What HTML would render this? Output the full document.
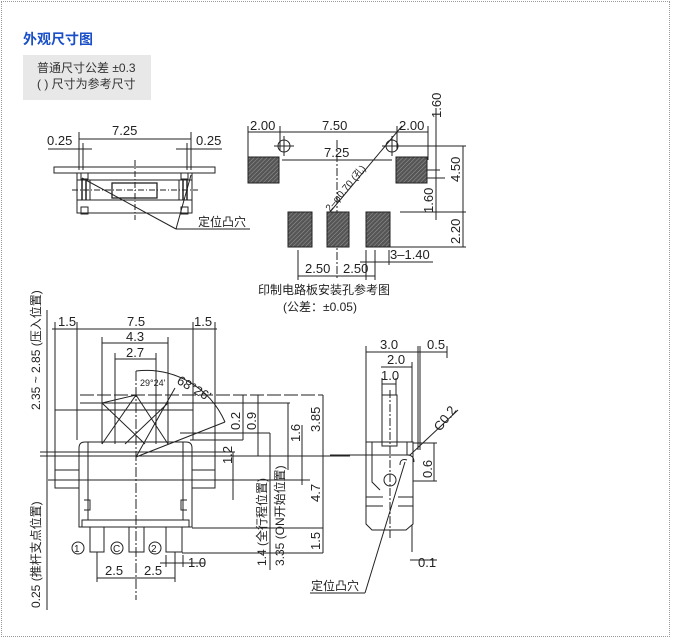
<!DOCTYPE html>
<html><head><meta charset="utf-8"><style>
html,body{margin:0;padding:0;background:#fff;}
body{width:674px;height:639px;position:relative;overflow:hidden;font-family:"Liberation Sans","Noto Sans CJK SC",sans-serif;}
.frame{position:absolute;left:1px;top:1px;width:667px;height:634px;border:1px dotted #999;}
.title{position:absolute;left:23px;top:29px;font-size:14px;font-weight:bold;color:#1a4fc8;}
.note{position:absolute;left:23px;top:55px;width:128px;height:45px;background:#e8e8e8;font-size:12px;color:#333;line-height:16px;padding:5px 0 0 14px;box-sizing:border-box;}
svg{position:absolute;left:0;top:0;}
svg text{font-family:"Liberation Sans","Noto Sans CJK SC",sans-serif;fill:#222;}
</style></head><body>
<div class="frame"></div>
<div class="title">外观尺寸图</div>
<div class="note">普通尺寸公差 ±0.3<br>( ) 尺寸为参考尺寸</div>
<svg width="674" height="639" viewBox="0 0 674 639">
<defs>
<pattern id="h" width="3" height="3" patternUnits="userSpaceOnUse" patternTransform="rotate(45)"><rect width="3" height="3" fill="#555"/><line x1="0" y1="0" x2="0" y2="3" stroke="#999" stroke-width="1"/></pattern>
</defs>
<g stroke="#222" stroke-width="1" fill="none">
<line x1="79" y1="132" x2="79" y2="170"/><line x1="191" y1="132" x2="191" y2="170"/>
<line x1="79" y1="139" x2="191" y2="139"/>
<line x1="48" y1="149" x2="92" y2="149"/><line x1="176" y1="149" x2="222" y2="149"/>
<line x1="83" y1="143" x2="83" y2="170"/><line x1="187" y1="143" x2="187" y2="170"/>
<rect x="54" y="167" width="161" height="6"/>
<rect x="77" y="173" width="115" height="40"/>
<rect x="81" y="173" width="7" height="6"/><rect x="181" y="173" width="7" height="6"/>
<rect x="81" y="207" width="7" height="7"/><rect x="181" y="207" width="7" height="7"/>
<line x1="77" y1="180" x2="192" y2="180"/><line x1="77" y1="200" x2="192" y2="200"/>
<rect x="112" y="183" width="45" height="15" stroke-width="1.3"/>
<line x1="82" y1="180" x2="82" y2="200" stroke-width="1.5"/><line x1="86" y1="180" x2="86" y2="200" stroke-width="1.5"/><line x1="90" y1="180" x2="90" y2="200"/>
<line x1="179" y1="180" x2="179" y2="200"/><line x1="183" y1="180" x2="183" y2="200" stroke-width="1.5"/><line x1="187" y1="180" x2="187" y2="200" stroke-width="1.5"/>
<line x1="72" y1="190" x2="198" y2="190" stroke-dasharray="6,2,1,2"/>
<line x1="135" y1="160" x2="135" y2="220" stroke-dasharray="6,2,1,2"/>
<line x1="82" y1="178" x2="176" y2="229"/><line x1="191" y1="175" x2="176" y2="229"/><line x1="176" y1="229" x2="250" y2="229"/>
<line x1="248" y1="132" x2="428" y2="132"/>
<line x1="248" y1="126" x2="248" y2="160"/><line x1="280" y1="126" x2="280" y2="150"/><line x1="397" y1="126" x2="397" y2="150"/><line x1="428" y1="126" x2="428" y2="160"/>
<circle cx="284" cy="146" r="6"/><circle cx="392" cy="146" r="6"/>
<line x1="274" y1="146" x2="294" y2="146"/><line x1="284" y1="136" x2="284" y2="156"/>
<line x1="382" y1="146" x2="466" y2="146"/><line x1="392" y1="136" x2="392" y2="156"/>
<line x1="282" y1="160" x2="392" y2="160"/>
<line x1="337" y1="140" x2="337" y2="280" stroke-dasharray="8,2,2,2"/>
<line x1="330" y1="212" x2="402" y2="126"/>
<line x1="420" y1="170" x2="440" y2="170"/><line x1="400" y1="178" x2="445" y2="178"/>
<line x1="436" y1="108" x2="436" y2="220"/><line x1="400" y1="212" x2="466" y2="212"/><line x1="390" y1="247" x2="466" y2="247"/>
<line x1="463" y1="146" x2="463" y2="247"/>
<line x1="298" y1="250" x2="298" y2="280"/><line x1="375" y1="250" x2="375" y2="280"/><line x1="366" y1="250" x2="366" y2="280"/>
<line x1="298" y1="276" x2="375" y2="276"/>
<line x1="360" y1="262" x2="433" y2="262"/><line x1="389" y1="250" x2="389" y2="265"/>
</g>
<rect x="248" y="157" width="31" height="26" fill="url(#h)" stroke="#222"/>
<rect x="396" y="157" width="31" height="26" fill="url(#h)" stroke="#222"/>
<rect x="288" y="212" width="24" height="35" fill="url(#h)" stroke="#222"/>
<rect x="327" y="212" width="22" height="35" fill="url(#h)" stroke="#222"/>
<rect x="366" y="212" width="24" height="35" fill="url(#h)" stroke="#222"/>
<g font-size="13">
<text x="112" y="135">7.25</text><text x="47" y="145">0.25</text><text x="196" y="145">0.25</text>
<text x="198" y="226" font-size="12">定位凸穴</text>
<text x="250" y="130">2.00</text><text x="322" y="130">7.50</text><text x="399" y="130">2.00</text>
<text x="324" y="157">7.25</text>
<text transform="translate(441,118) rotate(-90)">1.60</text>
<text transform="translate(460,182) rotate(-90)">4.50</text>
<text transform="translate(433,213) rotate(-90)">1.60</text>
<text transform="translate(460,244) rotate(-90)">2.20</text>
<text transform="translate(330,212) rotate(-50)" font-size="10">2–φ0.70 (孔)</text>
<text x="305" y="273">2.50</text><text x="343" y="273">2.50</text><text x="390" y="259">3–1.40</text>
<text x="258" y="294" font-size="12">印制电路板安装孔参考图</text>
<text x="283" y="311" font-size="12">(公差：±0.05)</text>
</g>
<g stroke="#222" stroke-width="1" fill="none">
<line x1="47" y1="310" x2="47" y2="610"/>
<line x1="52" y1="329" x2="217" y2="329"/>
<line x1="55" y1="322" x2="55" y2="470"/><line x1="77" y1="322" x2="77" y2="440"/><line x1="193" y1="322" x2="193" y2="440"/><line x1="215" y1="322" x2="215" y2="470"/>
<line x1="102" y1="343" x2="168" y2="343"/><line x1="102" y1="337" x2="102" y2="444"/><line x1="168" y1="337" x2="168" y2="444"/>
<line x1="115" y1="359" x2="156" y2="359"/><line x1="115" y1="353" x2="115" y2="444"/><line x1="156" y1="353" x2="156" y2="444"/>
<path d="M136 371 A86 86 0 0 1 225 422"/>
<line x1="136" y1="371" x2="136" y2="600" stroke-dasharray="10,2,2,2"/>
<line x1="136" y1="457" x2="225" y2="422"/>
<line x1="136" y1="457" x2="175" y2="388"/>
<line x1="80" y1="395" x2="323" y2="395" stroke-dasharray="14,3"/>
<line x1="80" y1="403" x2="290" y2="403"/>
<line x1="55" y1="410" x2="193" y2="410"/>
<path d="M102 403 L145 444 M168 403 L125 444 M102 403 L136 395 M136 395 L168 444 M136 395 L102 444"/>
<line x1="40" y1="456" x2="350" y2="456"/><line x1="40" y1="452" x2="235" y2="452"/>
<line x1="180" y1="433" x2="270" y2="433"/><line x1="190" y1="440" x2="243" y2="440"/>
<path d="M79 527 L79 448 Q79 442 85 442 L186 442 Q192 442 192 448 L192 527 Z"/>
<path d="M88 442 L88 520 M183 442 L183 520 M84 500 L90 500 L90 510 L84 510 M187 500 L181 500 L181 510 L187 510"/>
<path d="M82 527 L82 520 L189 520 L189 527 Z"/>
<rect x="90" y="527" width="14" height="25"/><rect x="129" y="527" width="15" height="25"/><rect x="166" y="527" width="16" height="25"/>
<rect x="55" y="470" width="24" height="18"/><rect x="192" y="470" width="23" height="18"/>
<line x1="48" y1="480" x2="310" y2="480"/>
<line x1="192" y1="528" x2="323" y2="528"/><line x1="182" y1="553" x2="323" y2="553"/>
<line x1="243" y1="395" x2="243" y2="440"/><line x1="258" y1="395" x2="258" y2="456"/><line x1="270" y1="433" x2="270" y2="570"/>
<line x1="288" y1="403" x2="288" y2="470"/><line x1="302" y1="425" x2="302" y2="485"/><line x1="323" y1="395" x2="323" y2="553"/>
<line x1="233" y1="452" x2="233" y2="500"/>
<line x1="97" y1="552" x2="97" y2="582"/><line x1="175" y1="552" x2="175" y2="582"/>
<line x1="97" y1="578" x2="175" y2="578"/>
<line x1="160" y1="563" x2="205" y2="563"/><line x1="166" y1="555" x2="166" y2="567"/><line x1="183" y1="555" x2="183" y2="567"/>
<circle cx="78" cy="548" r="6"/><circle cx="117" cy="548" r="6"/><circle cx="155" cy="548" r="6"/>
</g>
<g font-size="13">
<text x="58" y="326">1.5</text><text x="127" y="326">7.5</text><text x="194" y="326">1.5</text>
<text x="126" y="341">4.3</text><text x="126" y="357">2.7</text>
<text x="176" y="383" transform="rotate(30,176,383)">68°26'</text>
<text x="140" y="386" font-size="9">29°24'</text>
<text transform="translate(40,410) rotate(-90)" font-size="12">2.35 ~ 2.85 (压入位置)</text>
<text transform="translate(40,608) rotate(-90)" font-size="12">0.25 (推杆支点位置)</text>
<text x="74" y="552" font-size="10">1</text><text x="113" y="552" font-size="10">C</text><text x="151" y="552" font-size="10">2</text>
<text x="105" y="575">2.5</text><text x="144" y="575">2.5</text><text x="188" y="567">1.0</text>
<text transform="translate(240,430) rotate(-90)">0.2</text><text transform="translate(256,430) rotate(-90)">0.9</text>
<text transform="translate(232,464) rotate(-90)">1.2</text>
<text transform="translate(300,442) rotate(-90)">1.6</text><text transform="translate(320,432) rotate(-90)">3.85</text>
<text transform="translate(320,502) rotate(-90)">4.7</text><text transform="translate(320,550) rotate(-90)">1.5</text>
<text transform="translate(266,566) rotate(-90)" font-size="12">1.4 (全行程位置)</text>
<text transform="translate(284,566) rotate(-90)" font-size="12">3.35 (ON开始位置)</text>
</g>
<g stroke="#222" stroke-width="1" fill="none">
<line x1="366" y1="352" x2="447" y2="352"/><line x1="366" y1="346" x2="366" y2="442"/><line x1="418" y1="346" x2="418" y2="450"/><line x1="420" y1="346" x2="420" y2="450"/><line x1="447" y1="346" x2="447" y2="358"/>
<line x1="381" y1="367" x2="412" y2="367"/><line x1="412" y1="362" x2="412" y2="442"/>
<line x1="382" y1="384" x2="396" y2="384"/><line x1="382" y1="378" x2="382" y2="395"/><line x1="396" y1="378" x2="396" y2="395"/>
<rect x="382" y="395" width="15" height="51"/>
<line x1="390" y1="390" x2="390" y2="540" stroke-dasharray="8,2,2,2"/>
<path d="M366 442 L413 442 L413 524 L406 530 L372 530 L366 524 Z"/>
<path d="M372 442 L372 482 L380 490 M407 442 L407 455 Q414 455 414 462 M400 465 Q400 458 407 460"/>
<line x1="366" y1="497" x2="383" y2="497"/><line x1="398" y1="497" x2="413" y2="497"/>
<line x1="366" y1="506" x2="383" y2="506"/><line x1="398" y1="506" x2="413" y2="506"/>
<circle cx="390" cy="480" r="6"/>
<line x1="410" y1="455" x2="458" y2="410"/>
<line x1="413" y1="443" x2="437" y2="443"/><line x1="413" y1="481" x2="437" y2="481"/><line x1="434" y1="443" x2="434" y2="481"/>
<line x1="412" y1="525" x2="412" y2="552"/><line x1="410" y1="560" x2="437" y2="560"/>
<line x1="405" y1="462" x2="365" y2="593"/><line x1="310" y1="593" x2="365" y2="593"/>
<line x1="330" y1="455" x2="410" y2="455"/>
</g>
<g font-size="13">
<text x="380" y="349">3.0</text><text x="427" y="349">0.5</text><text x="387" y="364">2.0</text><text x="381" y="380">1.0</text>
<text transform="translate(440,432) rotate(-52)">C0.2</text>
<text transform="translate(432,478) rotate(-90)">0.6</text>
<text x="418" y="567">0.1</text>
<text x="311" y="590" font-size="12">定位凸穴</text>
</g>
</svg>
</body></html>
